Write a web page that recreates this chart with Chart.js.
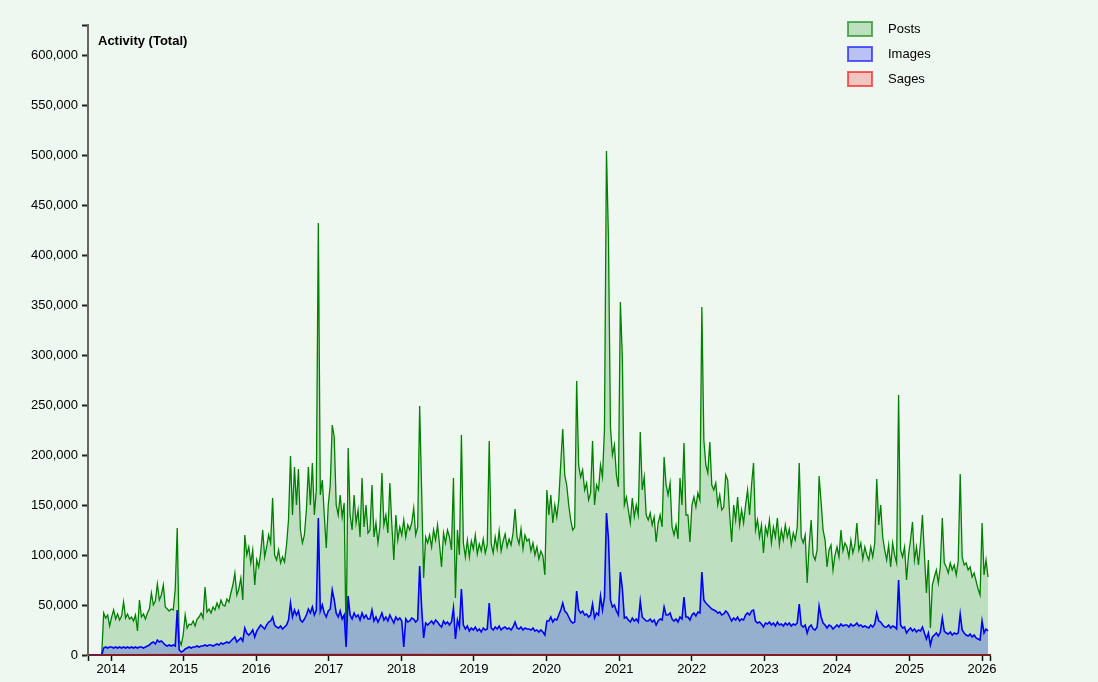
<!DOCTYPE html>
<html>
<head>
<meta charset="utf-8">
<title>Activity (Total)</title>
<script src="https://cdn.jsdelivr.net/npm/chart.js@4.4.1/dist/chart.umd.min.js"></script>
<style>
  html, body { margin: 0; padding: 0; background: #eff8f0; }
  #wrap { width: 1098px; height: 682px; position: relative; }
</style>
</head>
<body>
<div id="wrap"><canvas id="activityChart" width="1098" height="682"></canvas></div>
<script>
// sampling: one value every 10 days, first sample 2013-09-25 (decimal year)
var START_YEAR = 2013.735;
var STEP_YEARS = 10 / 365.25;

// posts per day, in thousands
var postsK = [
  0, 0, 0, 0, 0, 0, 42, 37, 40, 29,
  38, 45, 36, 41, 35, 39, 53, 37, 41, 36,
  38, 34, 40, 24, 55, 38, 41, 36, 42, 46,
  62, 50, 54, 71, 55, 60, 70, 48, 46, 44,
  46, 45, 66, 127, 15, 10, 20, 40, 27, 31,
  30, 34, 29, 36, 38, 42, 37, 68, 43, 46,
  42, 48, 45, 52, 47, 55, 50, 49, 56, 53,
  62, 70, 82, 60, 66, 77, 55, 120, 100, 108,
  92, 105, 70, 95, 88, 102, 125, 98, 108, 120,
  112, 157, 100, 95, 105, 92, 98, 93, 110, 135,
  199, 140, 188, 150, 186, 125, 112, 120, 145, 188,
  150, 192, 140, 165, 432, 160, 175, 140, 107, 150,
  170, 230, 218, 150, 140, 160, 138, 152, 10, 207,
  140, 125, 160, 132, 145, 118, 177, 128, 150, 122,
  125, 170, 118, 132, 112, 128, 182, 130, 140, 122,
  172, 130, 95, 140, 115, 128, 120, 135, 118, 130,
  125, 132, 147, 120, 128, 249, 163, 77, 118, 112,
  120, 108, 125, 115, 130, 110, 88, 122, 112, 125,
  118, 105, 177, 57, 125, 100, 220, 112, 98, 115,
  98, 114, 106, 120, 101, 111, 104, 116, 102, 110,
  214, 111, 102, 118, 106, 124, 104, 114, 121, 108,
  116, 110, 122, 146, 118, 111, 126, 106, 120, 114,
  116, 104, 112, 100, 108, 96, 104, 99, 80, 165,
  140, 160, 132, 150, 138, 155, 192, 226, 180, 170,
  150, 135, 125, 128, 274, 190, 178, 185, 165, 172,
  155, 162, 214, 150, 170, 165, 190, 178, 226, 504,
  416, 228, 200, 210, 180, 168, 353, 297, 150, 158,
  145, 132, 157, 138, 150, 140, 223, 165, 178, 140,
  135, 142, 130, 138, 113, 132, 140, 128, 198, 170,
  160, 172, 128, 120, 130, 116, 177, 150, 212, 140,
  140, 113, 150, 158, 148, 162, 155, 348, 215, 190,
  182, 213, 170, 165, 172, 150, 160, 145, 148, 180,
  175, 140, 113, 150, 135, 158, 130, 145, 132, 150,
  165, 140, 170, 192, 125, 135, 118, 130, 102, 128,
  120, 135, 112, 128, 118, 137, 110, 125, 115, 130,
  118, 126, 110, 122, 115, 128, 192, 118, 112, 120,
  72, 110, 135, 100, 95, 105, 179, 153, 125, 115,
  88, 105, 110, 85, 100, 108, 98, 125, 104, 112,
  108, 98, 115, 102, 110, 132, 105, 112, 96, 108,
  100, 95, 108, 98, 112, 176, 130, 150, 118, 105,
  95, 110, 88, 112, 100, 92, 260, 105, 98, 108,
  75, 100, 115, 133, 95, 108, 90, 112, 140, 100,
  62, 95, 27, 70, 78, 85, 72, 88, 137, 92,
  88, 82, 92, 85, 90, 80, 94, 181, 98, 90,
  92, 85, 88, 78, 82, 74, 66, 60, 132, 80,
  95, 78
];

// images per day, in thousands (same sampling)
var imagesK = [
  0, 0, 0, 0, 0, 0, 7, 8, 7, 8,
  8, 7, 8, 7, 8, 7, 8, 7, 8, 7,
  8, 7, 8, 7, 8, 8, 7, 8, 9, 10,
  12, 13, 11, 15, 13, 14, 12, 10, 9, 10,
  9, 10, 9, 45, 5, 3, 4, 6, 7, 8,
  7, 8, 8, 9, 8, 9, 9, 10, 9, 10,
  10, 9, 10, 11, 10, 12, 11, 12, 13, 12,
  14, 16, 18, 13, 15, 17, 14, 27, 22, 20,
  22, 25, 18, 24, 27, 30, 28, 26, 30, 33,
  34, 38, 30, 28, 27, 29, 26, 28, 30, 35,
  52, 38, 45, 40, 44, 35, 33, 36, 40, 46,
  42, 48, 40, 45, 137, 44, 50, 42, 38, 44,
  46, 65, 55, 42, 38, 44, 36, 40, 8, 59,
  40, 36, 42, 38, 40, 35, 42, 37, 40, 36,
  36, 45, 34, 38, 33, 37, 42, 35, 38, 34,
  40, 36, 32, 38, 35, 37, 34, 8, 36, 33,
  34, 37, 36, 33, 35, 89, 47, 17, 32, 30,
  32, 34, 31, 35, 33, 30, 28, 34, 31, 33,
  30, 33, 47, 16, 35, 28, 66, 30, 26, 29,
  24, 27, 25, 28, 24, 26, 23, 27, 25, 26,
  52, 27, 25, 28, 26, 29, 25, 27, 28, 26,
  27, 25, 28, 33, 27, 26, 28, 25, 27, 26,
  26, 25, 27, 24, 25, 23, 25, 23, 20, 34,
  34, 38, 33, 36, 35, 40, 45, 52, 44, 42,
  38, 34, 32, 33, 64, 45, 42, 44, 40, 41,
  38, 40, 51, 37, 42, 40, 59, 45, 58, 142,
  116, 55, 48, 50, 44, 40, 83, 66, 37, 38,
  35, 33, 37, 34, 36, 33, 54, 38, 36, 34,
  34, 36, 33, 35, 30, 34, 36, 35, 48, 40,
  40, 42, 36, 34, 36, 33, 38, 36, 58, 38,
  38, 35, 40, 42, 39, 43, 42, 83, 55, 52,
  50, 48, 46, 45, 44, 42, 43, 40, 41, 44,
  42, 38, 34, 37, 35, 38, 34, 36, 35, 40,
  42, 40, 44, 45, 34, 32, 33, 31, 28, 32,
  31, 33, 30, 32, 29, 33, 30, 31, 29, 32,
  30, 32, 29, 31, 30, 32, 51, 30, 28, 30,
  22, 28, 30, 26, 25, 28, 49, 38, 32, 30,
  27, 30, 29, 26, 28, 30, 28, 31, 29, 30,
  30, 28, 31, 29, 30, 32, 29, 30, 28, 29,
  28, 27, 30, 28, 31, 42, 34, 33, 30, 28,
  28, 30, 27, 29, 28, 26, 75, 30, 27, 28,
  22, 25, 27, 24, 26, 23, 25, 24, 28, 22,
  16, 22, 10, 18, 20, 22, 19, 23, 37, 24,
  22, 21, 23, 20, 22, 21, 22, 41, 25, 22,
  20, 19, 21, 18, 20, 17, 16, 15, 34, 22,
  26, 24
];

// sages barely leave the baseline
var sagesAt = [2013.735, 2013.9, 2016, 2020, 2026.083];
var sagesK = [0, 0.5, 0.8, 0.6, 0.4];

var yearTicks = [2014, 2015, 2016, 2017, 2018, 2019, 2020, 2021, 2022, 2023, 2024, 2025, 2026];
var yTicks = [0, 50000, 100000, 150000, 200000, 250000, 300000, 350000, 400000, 450000, 500000, 550000, 600000];
var X_MIN = 2013.683, X_MAX = 2026.11, Y_MAX = 630000;

(function () {
  'use strict';

  var BG = '#eff8f0';
  var FONT = "Arial, 'Liberation Sans', sans-serif";

  Chart.defaults.font.family = FONT;
  Chart.defaults.font.size = 13;
  Chart.defaults.color = '#000';

  function gridSeries(valuesK) {
    return valuesK.map(function (v, i) {
      return { x: START_YEAR + i * STEP_YEARS, y: v * 1000 };
    });
  }

  var sagesData = sagesAt.map(function (x, i) { return { x: x, y: sagesK[i] * 1000 }; });

  var bgPlugin = {
    id: 'bg',
    beforeDraw: function (chart) {
      var c = chart.ctx;
      c.save();
      c.fillStyle = BG;
      c.fillRect(0, 0, chart.width, chart.height);
      c.restore();
    }
  };

  // title + legend boxes in the top corners
  var labelsPlugin = {
    id: 'labels',
    afterDraw: function (chart) {
      var c = chart.ctx;
      var area = chart.chartArea;
      c.save();
      c.fillStyle = '#000';
      c.font = 'bold 13px ' + FONT;
      c.textBaseline = 'middle';
      c.fillText('Activity (Total)', area.left + 10, 41);

      c.font = '13px ' + FONT;
      chart.data.datasets.forEach(function (ds, i) {
        var y = 22 + i * 25;
        c.fillStyle = BG;
        c.fillRect(848, y, 24, 14);
        c.fillStyle = ds.backgroundColor;
        c.fillRect(848, y, 24, 14);
        c.lineWidth = 2;
        c.strokeStyle = ds.legendBorder;
        c.strokeRect(848, y, 24, 14);
        c.fillStyle = '#000';
        c.fillText(ds.label, 888, y + 7);
      });
      c.restore();
    }
  };

  var ctx = document.getElementById('activityChart').getContext('2d');

  new Chart(ctx, {
    type: 'line',
    data: {
      datasets: [
        {
          label: 'Posts',
          data: gridSeries(postsK),
          borderColor: '#008000',
          backgroundColor: 'rgba(0,128,0,0.2)',
          legendBorder: 'rgba(0,128,0,0.6)',
          borderWidth: 1.3,
          fill: 'origin',
          order: 3
        },
        {
          label: 'Images',
          data: gridSeries(imagesK),
          borderColor: '#0000ff',
          backgroundColor: 'rgba(0,0,255,0.22)',
          legendBorder: 'rgba(0,0,255,0.6)',
          borderWidth: 1.6,
          fill: 'origin',
          order: 2
        },
        {
          label: 'Sages',
          data: sagesData,
          borderColor: 'rgba(170,20,20,0.8)',
          backgroundColor: 'rgba(255,0,0,0.2)',
          legendBorder: 'rgba(255,0,0,0.6)',
          borderWidth: 1,
          fill: 'origin',
          order: 1
        }
      ]
    },
    options: {
      responsive: false,
      animation: false,
      events: [],
      elements: {
        point: { radius: 0 },
        line: { tension: 0 }
      },
      layout: { padding: { left: 0, top: 25, right: 108, bottom: 0 } },
      plugins: {
        legend: { display: false },
        tooltip: { enabled: false }
      },
      scales: {
        x: {
          type: 'linear',
          min: X_MIN,
          max: X_MAX,
          afterBuildTicks: function (scale) {
            scale.ticks = [{ value: X_MIN }].concat(yearTicks.map(function (v) { return { value: v }; }), [{ value: X_MAX }]);
          },
          afterFit: function (scale) { scale.height = 27; },
          ticks: {
            autoSkip: false,
            maxRotation: 0,
            padding: 1,
            color: '#000',
            callback: function (v) { return yearTicks.indexOf(v) >= 0 ? String(v) : ''; }
          },
          grid: { drawOnChartArea: false, tickLength: 6, tickColor: '#111', tickWidth: 1.5 },
          border: { color: '#6e2323', width: 2 }
        },
        y: {
          min: 0,
          max: Y_MAX,
          afterBuildTicks: function (scale) {
            scale.ticks = yTicks.map(function (v) { return { value: v }; }).concat([{ value: Y_MAX }]);
          },
          afterFit: function (scale) { scale.width = 88; },
          ticks: {
            padding: 4,
            color: '#000',
            callback: function (v) { return v === Y_MAX ? '' : v.toLocaleString('en-US'); }
          },
          grid: { drawOnChartArea: false, tickLength: 6, tickColor: '#222', tickWidth: 2 },
          border: { color: '#666', width: 2 }
        }
      }
    },
    plugins: [bgPlugin, labelsPlugin]
  });
})();
</script>
</body>
</html>
